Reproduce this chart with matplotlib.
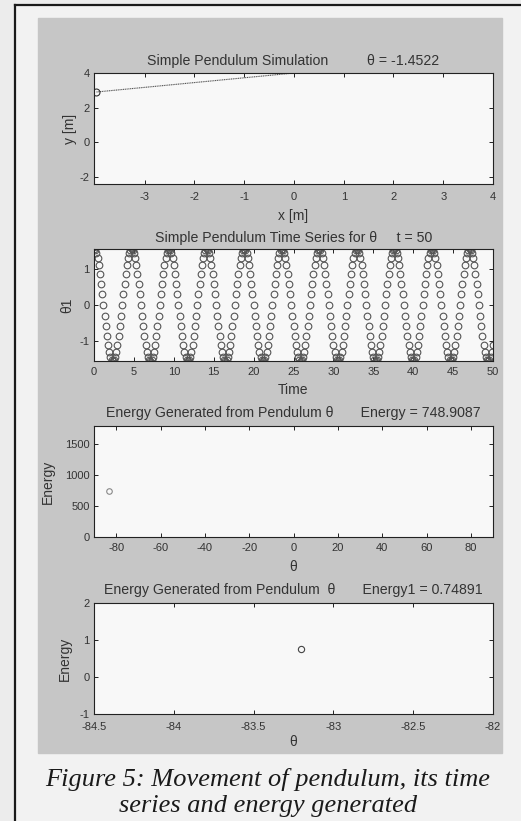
import numpy as np
import matplotlib.pyplot as plt
from matplotlib.lines import Line2D
from matplotlib.patches import Rectangle

# pendulum snapshot
theta_now = -1.4522
bob_x, bob_y = -3.97, 2.90
pivot_x, pivot_y = 0.0, 4.0

# time series of theta1 (rad), one swing per line, t = 0 .. 50
theta1 = [
    1.571, 1.541, 1.451, 1.306, 1.111, 0.873, 0.601, 0.306, 0.000, -0.306, -0.601, -0.873, -1.111, -1.306, -1.451, -1.541,
    -1.571, -1.541, -1.451, -1.306, -1.111, -0.873, -0.601, -0.306, 0.000, 0.306, 0.601, 0.873, 1.111, 1.306, 1.451, 1.541,
    1.571, 1.541, 1.451, 1.306, 1.111, 0.873, 0.601, 0.306, 0.000, -0.306, -0.601, -0.873, -1.111, -1.306, -1.451, -1.541,
    -1.571, -1.541, -1.451, -1.306, -1.111, -0.873, -0.601, -0.306, 0.000, 0.306, 0.601, 0.873, 1.111, 1.306, 1.451, 1.541,
    1.571, 1.541, 1.451, 1.306, 1.111, 0.873, 0.601, 0.306, 0.000, -0.306, -0.601, -0.873, -1.111, -1.306, -1.451, -1.541,
    -1.571, -1.541, -1.451, -1.306, -1.111, -0.873, -0.601, -0.306, 0.000, 0.306, 0.601, 0.873, 1.111, 1.306, 1.451, 1.541,
    1.571, 1.541, 1.451, 1.306, 1.111, 0.873, 0.601, 0.306, 0.000, -0.306, -0.601, -0.873, -1.111, -1.306, -1.451, -1.541,
    -1.571, -1.541, -1.451, -1.306, -1.111, -0.873, -0.601, -0.306, 0.000, 0.306, 0.601, 0.873, 1.111, 1.306, 1.451, 1.541,
    1.571, 1.541, 1.451, 1.306, 1.111, 0.873, 0.601, 0.306, 0.000, -0.306, -0.601, -0.873, -1.111, -1.306, -1.451, -1.541,
    -1.571, -1.541, -1.451, -1.306, -1.111, -0.873, -0.601, -0.306, 0.000, 0.306, 0.601, 0.873, 1.111, 1.306, 1.451, 1.541,
    1.571, 1.541, 1.451, 1.306, 1.111, 0.873, 0.601, 0.306, 0.000, -0.306, -0.601, -0.873, -1.111, -1.306, -1.451, -1.541,
    -1.571, -1.541, -1.451, -1.306, -1.111, -0.873, -0.601, -0.306, 0.000, 0.306, 0.601, 0.873, 1.111, 1.306, 1.451, 1.541,
    1.571, 1.541, 1.451, 1.306, 1.111, 0.873, 0.601, 0.306, 0.000, -0.306, -0.601, -0.873, -1.111, -1.306, -1.451, -1.541,
    -1.571, -1.541, -1.451, -1.306, -1.111, -0.873, -0.601, -0.306, 0.000, 0.306, 0.601, 0.873, 1.111, 1.306, 1.451, 1.541,
    1.571, 1.541, 1.451, 1.306, 1.111, 0.873, 0.601, 0.306, 0.000, -0.306, -0.601, -0.873, -1.111, -1.306, -1.451, -1.541,
    -1.571, -1.541, -1.451, -1.306, -1.111, -0.873, -0.601, -0.306, 0.000, 0.306, 0.601, 0.873, 1.111, 1.306, 1.451, 1.541,
    1.571, 1.541, 1.451, 1.306, 1.111, 0.873, 0.601, 0.306, 0.000, -0.306, -0.601, -0.873, -1.111, -1.306, -1.451, -1.541,
    -1.571, -1.541, -1.451, -1.306, -1.111, -0.873, -0.601, -0.306, 0.000, 0.306, 0.601, 0.873, 1.111, 1.306, 1.451, 1.541,
    1.571, 1.541, 1.451, 1.306, 1.111, 0.873, 0.601, 0.306, 0.000, -0.306, -0.601, -0.873, -1.111, -1.306, -1.451, -1.541,
    -1.571, -1.541, -1.451, -1.306, -1.111, -0.873, -0.601, -0.306, 0.000, 0.306, 0.601, 0.873, 1.111, 1.306, 1.451, 1.541,
    1.571, 1.541, 1.451, 1.306, 1.111, 0.873, 0.601, 0.306, 0.000, -0.306, -0.601, -0.873, -1.111, -1.306, -1.451, -1.541,
    -1.571, -1.541, -1.451, -1.306, -1.111,
]
t_end = 50

# energy
theta_deg = -83.205
energy = 748.9087
energy1 = 0.74891

plt.rcParams['font.family'] = ['Liberation Sans', 'DejaVu Sans']
plt.rcParams['axes.unicode_minus'] = False

txt = '#333333'
fig = plt.figure(figsize=(5.21, 8.21), dpi=100, facecolor='#ececec')

# page frame and the grey figure panel
fig.add_artist(Line2D([15/521, 15/521], [0, 1 - 5/821], color='#1a1a1a', lw=1.6))
fig.add_artist(Line2D([15/521, 1], [1 - 5/821, 1 - 5/821], color='#1a1a1a', lw=1.6))
fig.add_artist(Rectangle((16/521, 0), 1 - 16/521, 1 - 6/821, color='#f2f2f2', zorder=-2))
fig.add_artist(Rectangle((38/521, 1 - 753/821), 464/521, 735/821, color='#c6c6c6', zorder=-1))


def make_ax(top, bottom, xpad=4.5):
    l, r = 94/521, 493/521
    ax = fig.add_axes([l, 1 - bottom/821, r - l, (bottom - top)/821])
    ax.set_facecolor('#f8f8f8')
    ax.tick_params(direction='in', top=True, right=True, length=3, width=0.7,
                   labelsize=8, colors='#222222', labelcolor=txt, pad=3)
    ax.tick_params(axis='x', pad=xpad)
    for s in ax.spines.values():
        s.set_linewidth(0.8)
        s.set_color('#222222')
    return ax


def labels(ax, title, tpad, xl, xl_y, yl, yl_x):
    ax.set_title(title, fontsize=10.2, color=txt, pad=tpad)
    ax.set_xlabel(xl, fontsize=10, color=txt)
    ax.set_ylabel(yl, fontsize=10, color=txt)
    ax.xaxis.set_label_coords(0.5, xl_y)
    ax.yaxis.set_label_coords(yl_x, 0.5)


# 1: pendulum
ax1 = make_ax(73, 184, xpad=6)
ax1.plot([bob_x, pivot_x], [bob_y, pivot_y], color='#555555', lw=0.8, ls=(0, (1, 0.6)))
ax1.plot([bob_x], [bob_y], 'o', mfc='none', mec='#333333', ms=5, mew=0.8)
ax1.set_xlim(-4.02, 4)
ax1.set_ylim(-2.43, 4)
ax1.set_xticks([-3, -2, -1, 0, 1, 2, 3, 4])
ax1.set_yticks([-2, 0, 2, 4])
labels(ax1, 'Simple Pendulum Simulation          \u03b8 = %.4f' % theta_now, 6,
       'x [m]', -0.225, 'y [m]', -0.043)

# 2: time series
ax2 = make_ax(249, 361)
time = np.linspace(0, t_end, len(theta1))
ax2.plot(time, theta1, 'o', mfc='none', mec='#555555', ms=4.8, mew=0.8)
ax2.set_xlim(0, 50)
ax2.set_ylim(-np.pi/2, np.pi/2)
ax2.set_xticks(range(0, 51, 5))
ax2.set_yticks([-1, 0, 1])
labels(ax2, 'Simple Pendulum Time Series for \u03b8     t = %d' % t_end, 5,
       'Time', -0.196, '\u03b81', -0.05)

# 3: energy
ax3 = make_ax(426, 537)
ax3.plot([theta_deg], [energy], 'o', mfc='none', mec='#888888', ms=4, mew=0.8)
ax3.set_xlim(-90, 90)
ax3.set_ylim(0, 1800)
ax3.set_xticks(range(-80, 81, 20))
ax3.set_yticks([0, 500, 1000, 1500])
labels(ax3, 'Energy Generated from Pendulum \u03b8       Energy = %.4f' % energy, 6.5,
       '\u03b8', -0.205, 'Energy', -0.098)

# 4: energy, zoomed
ax4 = make_ax(603, 714, xpad=5.5)
ax4.plot([theta_deg], [energy1], 'o', mfc='none', mec='#444444', ms=4.5, mew=0.8)
ax4.set_xlim(-84.5, -82)
ax4.set_ylim(-1, 2)
ax4.set_xticks([-84.5, -84, -83.5, -83, -82.5, -82])
ax4.set_xticklabels(['-84.5', '-84', '-83.5', '-83', '-82.5', '-82'])
ax4.set_yticks([-1, 0, 1, 2])
labels(ax4, 'Energy Generated from Pendulum  \u03b8       Energy1 = %.5f' % energy1, 6.5,
       '\u03b8', -0.186, 'Energy', -0.055)

# caption
fig.text(268/521, 1 - 779/821, 'Figure 5: Movement of pendulum, its time',
         family='Liberation Serif', style='italic', fontsize=19, color='#1a1a1a',
         ha='center', va='center')
fig.text(268/521, 1 - 806/821, 'series and energy generated',
         family='Liberation Serif', style='italic', fontsize=19, color='#1a1a1a',
         ha='center', va='center')

fig.savefig('out.png', dpi=100, facecolor=fig.get_facecolor())
